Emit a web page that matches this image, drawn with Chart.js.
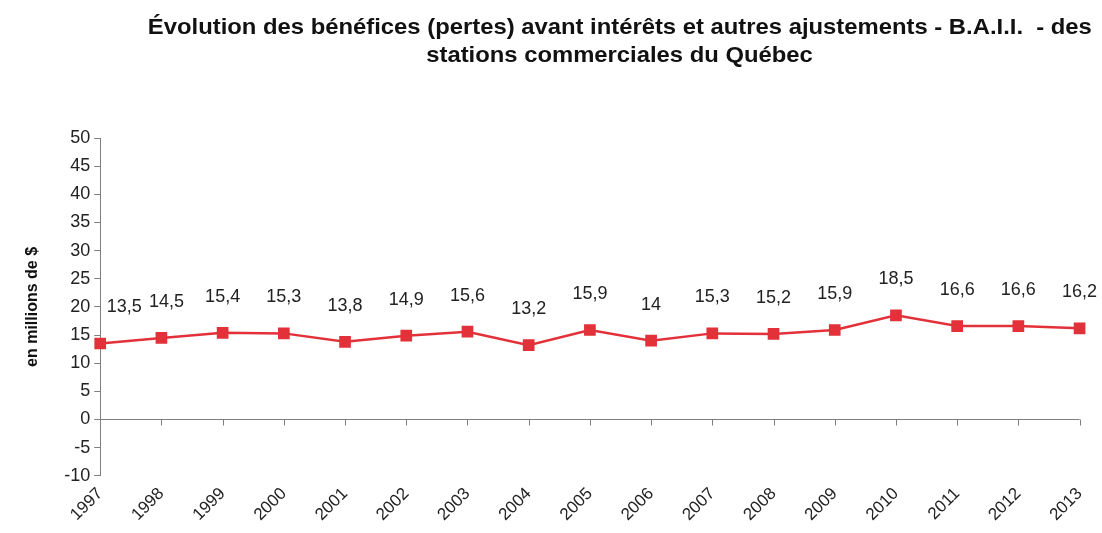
<!DOCTYPE html>
<html><head><meta charset="utf-8">
<script src="https://cdn.jsdelivr.net/npm/chart.js@4/dist/chart.umd.min.js"></script>
<style>
html,body{margin:0;padding:0;background:#fff;}
#wrap{position:relative;width:1102px;height:533px;}
#title{position:absolute;left:120px;top:13px;width:1000px;text-align:center;font-family:"Liberation Sans",Arial,sans-serif;font-weight:bold;font-size:22px;line-height:28px;color:#111;white-space:nowrap;}
#title span{display:inline-block;transform-origin:50% 50%;}
</style></head><body>
<div id="wrap">
<canvas id="c" width="1102" height="533"></canvas>
<div id="title"><span id="t1">Évolution des bénéfices (pertes) avant intérêts et autres ajustements - B.A.I.I.&nbsp; - des</span><br><span id="t2">stations commerciales du Québec</span></div>
</div>
<script>
const categories = ["1997","1998","1999","2000","2001","2002","2003","2004","2005","2006","2007","2008","2009","2010","2011","2012","2013"];
const values = [13.5,14.5,15.4,15.3,13.8,14.9,15.6,13.2,15.9,14,15.3,15.2,15.9,18.5,16.6,16.6,16.2];
const valueLabels = ["13,5","14,5","15,4","15,3","13,8","14,9","15,6","13,2","15,9","14","15,3","15,2","15,9","18,5","16,6","16,6","16,2"];
const yTicks = [-10,-5,0,5,10,15,20,25,30,35,40,45,50];

// condense title to the reference's narrow look
(function(){
  const t1 = document.getElementById('t1'), t2 = document.getElementById('t2');
  const k = 944 / t1.getBoundingClientRect().width;
  t1.style.transform = 'scaleX(' + k + ')';
  t2.style.transform = 'scaleX(' + k + ')';
})();

const axisColor = '#7f7f7f';
const font = "'Liberation Sans', Arial, sans-serif";

const zeroTicks = {
  id:'zeroTicks',
  afterDatasetsDraw(chart){
    const {ctx, scales:{x,y}} = chart;
    const y0 = y.getPixelForValue(0);
    ctx.save();
    ctx.strokeStyle = axisColor; ctx.lineWidth = 1;
    ctx.beginPath();
    for(let i=0;i<categories.length;i++){
      const px = Math.round(x.getPixelForValue(i))+0.5;
      ctx.moveTo(px,y0); ctx.lineTo(px,y0+6);
    }
    ctx.stroke();
    ctx.restore();
  }
};
const labelsPlugin = {
  id:'valLabels',
  afterDatasetsDraw(chart){
    const {ctx} = chart;
    const meta = chart.getDatasetMeta(0);
    ctx.save();
    ctx.font = "18px " + font;
    ctx.fillStyle = '#222';
    ctx.textAlign = 'center';
    ctx.textBaseline = 'middle';
    meta.data.forEach((pt,i)=>{
      const dx = i===0 ? 24 : (i===1 ? 5 : 0);
      ctx.fillText(valueLabels[i], pt.x+dx, pt.y-36);
    });
    ctx.restore();
  }
};

new Chart(document.getElementById('c'), {
  type:'line',
  data:{labels:categories, datasets:[{
    data:values,
    borderColor:'#e3313a', backgroundColor:'#e3313a',
    borderWidth:2.5, pointStyle:'rect', pointRadius:6.5, pointHoverRadius:6.5,
    pointBorderColor:'#e3313a', pointBackgroundColor:'#e3313a', tension:0
  }]},
  options:{
    responsive:false, animation:false,
    layout:{padding:{top:138,right:16,left:19,bottom:0}},
    plugins:{legend:{display:false}, tooltip:{enabled:false}, title:{display:false}},
    scales:{
      x:{
        offset:false,
        grid:{display:false, drawTicks:false},
        border:{display:false},
        ticks:{minRotation:45,maxRotation:45,color:'#222',font:{family:font,size:17},padding:8,autoSkip:false}
      },
      y:{
        min:-10,max:50,
        afterBuildTicks(ax){ ax.ticks = yTicks.map(v=>({value:v})); },
        grid:{drawOnChartArea:true, drawTicks:true, tickLength:6,
          color:(c)=> c.tick && c.tick.value===0 ? axisColor : 'rgba(0,0,0,0)',
          tickColor:axisColor},
        border:{display:true,color:axisColor,width:1},
        ticks:{color:'#222',font:{family:font,size:18},padding:4,stepSize:5},
        title:{display:true,text:'en millions de $',color:'#111',font:{family:font,size:16,weight:'bold'},padding:{bottom:18}}
      }
    }
  },
  plugins:[zeroTicks,labelsPlugin]
});
</script>
</body></html>
